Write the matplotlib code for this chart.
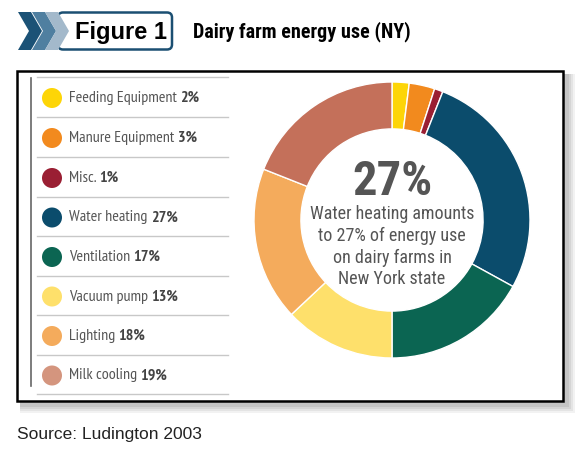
import matplotlib.pyplot as plt
from matplotlib.patches import Rectangle, Polygon, FancyBboxPatch, Circle

plt.rcParams['font.family'] = ['Roboto Condensed', 'DejaVu Sans']
ARIAL = ['Liberation Sans', 'DejaVu Sans']
NARROW = ['PT Sans Narrow', 'Roboto Condensed', 'DejaVu Sans']

categories = ['Feeding Equipment', 'Manure Equipment', 'Misc.', 'Water heating',
              'Ventilation', 'Vacuum pump', 'Lighting', 'Milk cooling']
shares = [2, 3, 1, 27, 17, 13, 18, 19]
colors = ['#FDD507', '#F28A1E', '#9A1F33', '#0B4C6C', '#0B6552',
          '#FEE06B', '#F4AB5C', '#C4705A']
legend_colors = colors[:-1] + ['#D4957E']

W, H = 575, 457
fig = plt.figure(figsize=(W / 100, H / 100), dpi=100)
fig.patch.set_facecolor('white')

# overlay axes in pixel coordinates (y down)
ov = fig.add_axes([0, 0, 1, 1])
ov.set_xlim(0, W)
ov.set_ylim(H, 0)
ov.axis('off')

# header chevrons + "Figure 1" box
ov.add_patch(FancyBboxPatch((58, 12.5), 114, 37, boxstyle='round,pad=0,rounding_size=5',
                            fc='white', ec='#1B4F72', lw=1.8))
for x0, c in zip([18, 32, 45], ['#1B5276', '#4F7FA0', '#A3B9CB']):
    ov.add_patch(Polygon([(x0, 12), (x0 + 13, 12), (x0 + 24, 31), (x0 + 13, 50),
                          (x0, 50), (x0 + 11, 31)], closed=True, fc=c, ec='none'))
ov.text(75, 32, 'Figure 1', fontsize=17, fontweight='bold', color='black',
        ha='left', va='center', family=ARIAL)
ov.text(193, 32, 'Dairy farm energy use (NY)', fontsize=14.5, fontweight='bold',
        color='black', ha='left', va='center')

# framed panel with soft shadow
for i, a in enumerate([0.10, 0.12, 0.15, 0.18]):
    d = 9 - 2 * i
    ov.add_patch(Rectangle((17 + 3, 71 + 3), 546 + d, 330 + d, fc='#808080',
                           ec='none', alpha=a))
ov.add_patch(Rectangle((17, 71), 546, 330, fc='white', ec='black', lw=1.8))

# legend
ov.plot([31, 31], [78, 386], color='#666666', lw=1.2)
seps = [77, 117, 157, 197, 236, 276, 315, 355, 394]
for y in seps:
    ov.plot([37, 228], [y, y], color='#c8c8c8', lw=1)
for i, (name, share, c) in enumerate(zip(categories, shares, legend_colors)):
    yc = (seps[i] + seps[i + 1]) / 2 + 1
    ov.add_patch(Circle((52, yc), 10, fc=c, ec='none'))
    t = ov.text(69, yc, name + ' ', fontsize=11.5, color='#555555', ha='left',
                va='center', family=NARROW)
    ov.annotate(f'{share}%', xy=(1, 0), xycoords=t, fontsize=11.5, fontweight='bold',
                color='#444444', ha='left', va='bottom', family=NARROW)

ov.text(17, 434, 'Source: Ludington 2003', fontsize=12.5, color='#222222',
        ha='left', va='center', family=ARIAL)

# donut
cx, cy, R = 392, 220, 138
pax = fig.add_axes([(cx - R) / W, (H - cy - R) / H, 2 * R / W, 2 * R / H])
pax.pie(shares, colors=colors, startangle=90, counterclock=False, radius=1,
        wedgeprops=dict(width=0.34, edgecolor='white', linewidth=1))
pax.set_xlim(-1, 1)
pax.set_ylim(-1, 1)
pax.set_aspect('equal')
pax.axis('off')

ov2 = fig.add_axes([0, 0, 1, 1])
ov2.set_xlim(0, W)
ov2.set_ylim(H, 0)
ov2.axis('off')
ov2.text(cx, 182, '27%', fontsize=35, fontweight='bold', color='#555555',
         ha='center', va='center')
for y, line in zip([214, 236, 258, 279], ['Water heating amounts', 'to 27% of energy use',
                                           'on dairy farms in', 'New York state']):
    ov2.text(cx, y, line, fontsize=13, color='#555555', ha='center', va='center')

fig.savefig('out.png', dpi=100)
